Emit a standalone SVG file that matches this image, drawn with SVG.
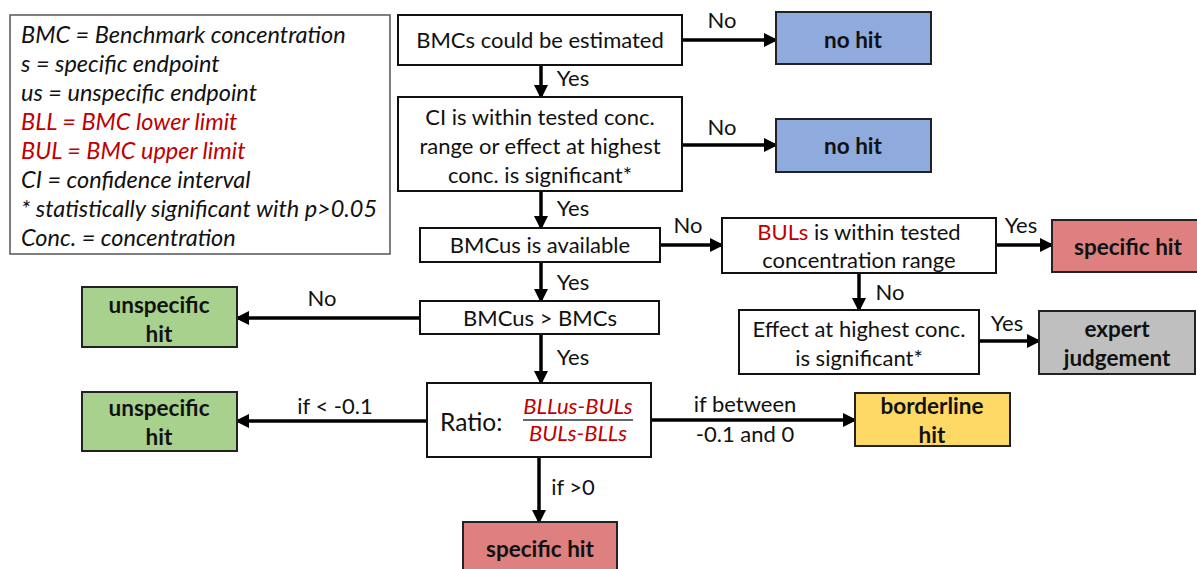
<svg xmlns="http://www.w3.org/2000/svg" width="1197" height="569" viewBox="0 0 1197 569">
<style>
text{font-family:Lato,"Open Sans","Liberation Sans",sans-serif;fill:#111;font-size:22px}
.c{text-anchor:middle}
.b{font-weight:bold;font-size:22.5px}
.i{font-style:italic}
.lg{font-size:23.5px}
.r{fill:#c00000}
.box{fill:#fff;stroke:#111;stroke-width:2}
.blue{fill:#8faadc;stroke:#222;stroke-width:2}
.red{fill:#de8080;stroke:#222;stroke-width:2}
.green{fill:#a9d18e;stroke:#222;stroke-width:2}
.yellow{fill:#ffd966;stroke:#222;stroke-width:2}
.gray{fill:#bfbfbf;stroke:#222;stroke-width:2}
.e{stroke:#000;stroke-width:3.5;fill:none;marker-end:url(#ah)}
</style>
<defs>
<marker id="ah" markerWidth="14" markerHeight="14" refX="11" refY="7" orient="auto" markerUnits="userSpaceOnUse">
<path d="M0,0 L14,7 L0,14 Z" fill="#000"/>
</marker>
</defs>
<rect width="1197" height="569" fill="#fff"/>
<g id="legend">
<rect x="10" y="15" width="380" height="239" fill="#fff" stroke="#555" stroke-width="1.5"/>
<text class="i lg" x="21" y="43">BMC = Benchmark concentration</text>
<text class="i lg" x="21" y="72">s = specific endpoint</text>
<text class="i lg" x="21" y="101">us = unspecific endpoint</text>
<text class="i lg r" x="21" y="130">BLL = BMC lower limit</text>
<text class="i lg r" x="21" y="159">BUL = BMC upper limit</text>
<text class="i lg" x="21" y="188">CI = confidence interval</text>
<text class="i lg" x="21" y="217">* statistically significant with p&gt;0.05</text>
<text class="i lg" x="21" y="246">Conc. = concentration</text>
</g>
<g id="connectors">
<line class="e" x1="682" y1="40" x2="775" y2="40"/>
<line class="e" x1="541" y1="65" x2="541" y2="96"/>
<line class="e" x1="682" y1="145" x2="775" y2="145"/>
<line class="e" x1="541" y1="191" x2="541" y2="227"/>
<line class="e" x1="660" y1="245" x2="721" y2="245"/>
<line class="e" x1="996" y1="245" x2="1051" y2="245"/>
<line class="e" x1="859" y1="273" x2="859" y2="309"/>
<line class="e" x1="979" y1="341" x2="1038" y2="341"/>
<line class="e" x1="541" y1="262" x2="541" y2="300"/>
<line class="e" x1="420" y1="318" x2="238" y2="318"/>
<line class="e" x1="541" y1="334" x2="541" y2="382"/>
<line class="e" x1="427" y1="421" x2="238" y2="421"/>
<line class="e" x1="651" y1="420" x2="854" y2="420"/>
<line class="e" x1="539" y1="457" x2="539" y2="521"/>
<text x="722" y="28" class="c">No</text>
<text x="573" y="86" class="c">Yes</text>
<text x="722" y="135" class="c">No</text>
<text x="573" y="216" class="c">Yes</text>
<text x="688" y="233" class="c">No</text>
<text x="1021" y="233" class="c">Yes</text>
<text x="890" y="300" class="c">No</text>
<text x="1007" y="331" class="c">Yes</text>
<text x="573" y="290" class="c">Yes</text>
<text x="322" y="306" class="c">No</text>
<text x="573" y="365" class="c">Yes</text>
<text x="335" y="414" class="c">if &lt; -0.1</text>
<text x="745" y="412" class="c">if between</text>
<text x="745" y="442" class="c">-0.1 and 0</text>
<text x="573" y="495" class="c">if &gt;0</text>
</g>
<g id="n_bmcs">
<rect class="box" x="398" y="15" width="284" height="50"/>
<text class="c" x="540" y="48">BMCs could be estimated</text>
</g>
<g id="n_nohit1">
<rect class="blue" x="776" y="12" width="155" height="52"/>
<text class="c b" x="853" y="48">no hit</text>
</g>
<g id="n_ci">
<rect class="box" x="398" y="97" width="284" height="94"/>
<text class="c" x="540" y="125">CI is within tested conc.</text>
<text class="c" x="540" y="154">range or effect at highest</text>
<text class="c" x="540" y="183">conc. is significant*</text>
</g>
<g id="n_nohit2">
<rect class="blue" x="776" y="119" width="155" height="53"/>
<text class="c b" x="853" y="154">no hit</text>
</g>
<g id="n_bmcus">
<rect class="box" x="420" y="228" width="240" height="34"/>
<text class="c" x="540" y="253">BMCus is available</text>
</g>
<g id="n_buls">
<rect class="box" x="722" y="218" width="274" height="55"/>
<text class="c" x="859" y="240"><tspan class="r">BULs</tspan> is within tested</text>
<text class="c" x="859" y="268">concentration range</text>
</g>
<g id="n_spec1">
<rect class="red" x="1052" y="220" width="150" height="52"/>
<text class="c b" x="1128" y="255">specific hit</text>
</g>
<g id="n_effect">
<rect class="box" x="739" y="310" width="240" height="64"/>
<text class="c" x="859" y="337">Effect at highest conc.</text>
<text class="c" x="859" y="366">is significant*</text>
</g>
<g id="n_expert">
<rect class="gray" x="1039" y="311" width="156" height="63"/>
<text class="c b" x="1117" y="337">expert</text>
<text class="c b" x="1117" y="366">judgement</text>
</g>
<g id="n_gt">
<rect class="box" x="420" y="301" width="239" height="33"/>
<text class="c" x="540" y="326">BMCus &gt; BMCs</text>
</g>
<g id="n_unspec1">
<rect class="green" x="82" y="287" width="155" height="60"/>
<text class="c b" x="159" y="313">unspecific</text>
<text class="c b" x="159" y="342">hit</text>
</g>
<g id="n_ratio">
<rect class="box" x="427" y="383" width="224" height="74"/>
<text x="440" y="431" style="font-size:24.5px">Ratio:</text>
<text class="c i r" x="578" y="414">BLLus-BULs</text>
<line x1="523" y1="420" x2="633" y2="420" stroke="#333" stroke-width="1.5"/>
<text class="c i r" x="578" y="441">BULs-BLLs</text>
</g>
<g id="n_unspec2">
<rect class="green" x="82" y="392" width="155" height="59"/>
<text class="c b" x="159" y="416">unspecific</text>
<text class="c b" x="159" y="445">hit</text>
</g>
<g id="n_border">
<rect class="yellow" x="855" y="393" width="155" height="53"/>
<text class="c b" x="932" y="414">borderline</text>
<text class="c b" x="932" y="443">hit</text>
</g>
<g id="n_spec2">
<rect class="red" x="463" y="522" width="154" height="60"/>
<text class="c b" x="540" y="557">specific hit</text>
</g>
</svg>
